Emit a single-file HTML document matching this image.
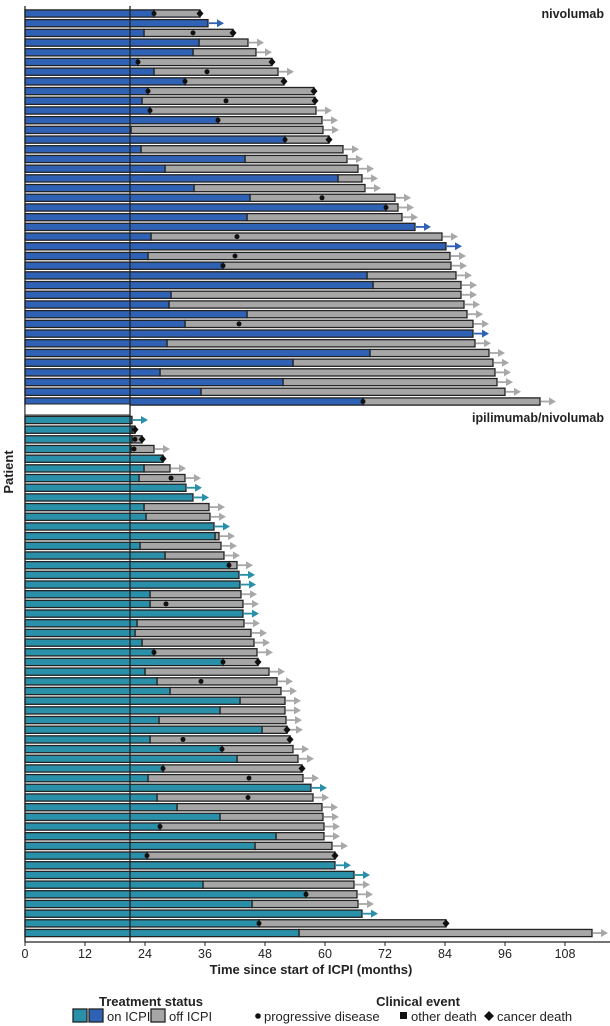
<!DOCTYPE html>
<html><head><meta charset="utf-8"><style>
html,body{margin:0;padding:0;background:#fff;}
svg{display:block;font-family:"Liberation Sans",Arial,sans-serif;}
</style></head><body>
<svg id="chart" width="610" height="1026" viewBox="0 0 610 1026" xmlns="http://www.w3.org/2000/svg">
<g id="bars"></g>
<g id="axes"></g>
<text x="604" y="18" text-anchor="end" font-size="12.5" font-weight="bold" fill="#222">nivolumab</text>
<text x="604" y="422" text-anchor="end" font-size="12.5" font-weight="bold" fill="#222">ipilimumab/nivolumab</text>
<text transform="translate(13,472) rotate(-90)" text-anchor="middle" font-size="13" font-weight="bold" fill="#222">Patient</text>
<text x="311" y="974" text-anchor="middle" font-size="13" font-weight="bold" fill="#222">Time since start of ICPI (months)</text>
<g>
<text x="151" y="1006" text-anchor="middle" font-size="13" font-weight="bold" fill="#222">Treatment status</text>
<rect x="73" y="1009" width="14" height="13" fill="#2A8FA8" stroke="#222" stroke-width="1.3"/>
<rect x="89" y="1009" width="14" height="13" fill="#2F62B5" stroke="#222" stroke-width="1.3"/>
<text x="107" y="1021" font-size="13" fill="#222">on ICPI</text>
<rect x="151" y="1009" width="14" height="13" fill="#A6A6A6" stroke="#222" stroke-width="1.3"/>
<text x="169" y="1021" font-size="13" fill="#222">off ICPI</text>
</g>
<g>
<text x="418" y="1006" text-anchor="middle" font-size="13" font-weight="bold" fill="#222">Clinical event</text>
<circle cx="258" cy="1016" r="2.8" fill="#111"/>
<text x="264" y="1021" font-size="13" fill="#222">progressive disease</text>
<rect x="400" y="1012" width="7" height="7" fill="#111"/>
<text x="411" y="1021" font-size="13" fill="#222">other death</text>
<path d="M489,1011 L494,1016 L489,1021 L484,1016 Z" fill="#111"/>
<text x="497" y="1021" font-size="13" fill="#222">cancer death</text>
</g>
</svg>
<script>
// Panel 1: nivolumab
const nivoOn  = [25.8,36.6,23.8,34.8,33.6,22.6,25.8,32,24.6,23.4,25,38.6,21.2,52,23.2,44,28,62.6,33.8,45,72.2,44.4,78,25.2,84.2,24.6,39.6,68.4,69.6,29.2,28.8,44.4,32,89.6,28.4,69,53.6,27,51.6,35.2,67.6];
const nivoTot = [35,36.6,41.6,44.6,46.2,49.4,50.6,51.8,57.8,58,58.2,59.4,59.6,60.8,63.6,64.4,66.6,67.4,68,74,74.6,75.4,78,83.4,84.2,85,85.2,86.2,87.2,87.2,87.8,88.4,89.6,89.6,90,92.8,93.6,94,94.4,96,103];
const nivoPD  = [25.8,null,33.6,null,null,22.6,36.4,32,24.6,40.2,25,38.6,null,52,null,null,null,null,null,59.4,72.2,null,null,42.4,null,42,39.6,null,null,null,null,null,42.8,null,null,null,null,null,null,null,67.6];
const nivoEnd = ['d','o','d','a','a','d','a','d','d','d','a','a','a','d','a','a','a','a','a','a','a','a','o','a','o','a','a','a','a','a','a','a','a','o','a','a','a','a','a','a','a'];
// Panel 2: ipilimumab/nivolumab
const ipiOn  = [21.4,21.4,21.4,21.2,27.6,23.8,22.8,32.2,33.6,23.8,24.2,37.8,38,23,28,40.8,42.8,43,25,25,43.6,22.4,22,23.4,25.8,39.6,24,26.4,29,43,39,26.8,47.4,25,39.4,42.4,27.6,24.6,57.2,26.4,30.4,39,27,50.2,46,24.4,62,65.8,35.6,56.2,45.4,67.4,46.8,54.8];
const ipiTot = [21.4,22,23.4,25.8,27.6,29,32,32.2,33.6,36.8,37,37.8,38.8,39.2,39.8,42.4,42.8,43,43.2,43.6,43.6,43.8,45.2,45.8,46.4,46.6,48.8,50.4,51.2,52,52,52.2,52.4,53,53.6,54.6,55.4,55.6,57.2,57.6,59.4,59.6,59.8,59.8,61.4,62,62,65.8,65.8,66.4,66.6,67.4,84.2,113.4];
const ipiPD  = [null,null,22,21.8,null,null,29.2,null,null,null,null,null,null,null,null,40.8,null,null,null,28.2,null,null,null,null,25.8,39.6,null,35.2,null,null,null,null,null,31.6,39.4,null,27.6,44.8,null,44.6,null,null,27,null,null,24.4,null,null,null,56.2,null,null,46.8,null];
const ipiEnd = ['o','d','d','a','d','a','a','o','o','a','a','o','a','a','a','a','o','o','a','a','o','a','a','a','a','d','a','a','a','a','a','a','da','d','a','a','d','a','o','a','a','a','a','a','a','d','o','o','a','a','a','o','d','a'];
const xTicks = [0,12,24,36,48,60,72,84,96,108];
const refLine = 21;

const NS='http://www.w3.org/2000/svg';
const X0=25, PX=5.0;
function xs(m){return X0+m*PX;}
function mk(tag,attrs,parent){const e=document.createElementNS(NS,tag);for(const k in attrs)e.setAttribute(k,attrs[k]);parent.appendChild(e);return e;}
const gB=document.getElementById('bars'), gA=document.getElementById('axes');

function panel(on,tot,pd,end,y0,step,color,label){
  for(let i=0;i<on.length;i++){
    const yc=y0+i*step, h=7.2, yt=yc-h/2;
    const row=mk('g',{},gB);
    
    
    if(tot[i]>on[i]){
      const g=mk('rect',{x:xs(on[i]),y:yt,width:xs(tot[i])-xs(on[i]),height:h,fill:'#A6A6A6',stroke:'#222','stroke-width':1.3},row);
      
      
    }
    const b=mk('rect',{x:xs(0),y:yt,width:xs(on[i])-xs(0),height:h,fill:color,stroke:'#222','stroke-width':1.3},row);
    
    
    const e=end[i];
    if(e==='a'||e==='o'||e==='da'){
      const ac=(e==='o')?color:'#A8A8A8';
      const sx=xs(tot[i])+1;
      const ar=mk('g',{},row);
      
      
      mk('line',{x1:sx,y1:yc,x2:sx+9,y2:yc,stroke:ac,'stroke-width':1.8},ar);
      mk('path',{d:`M${sx+8},${yc-4} L${sx+15},${yc} L${sx+8},${yc+4} Z`,fill:ac},ar);
    }
    if(pd[i]!==null){
      const c=mk('circle',{cx:xs(pd[i]),cy:yc,r:2.5,fill:'#111'},row);
      
      
    }
    if(e==='d'||e==='da'){
      const dx=xs(tot[i]);
      const d=mk('path',{d:`M${dx},${yc-4} L${dx+3.5},${yc} L${dx},${yc+4} L${dx-3.5},${yc} Z`,fill:'#111'},row);
      
      
    }
  }
}
panel(nivoOn,nivoTot,nivoPD,nivoEnd,13.5,9.7,'#2F62B5','nivolumab');
panel(ipiOn,ipiTot,ipiPD,ipiEnd,420,9.68,'#2A8FA8','ipi-nivo');

// axes
const ax=mk('line',{x1:X0,y1:6,x2:X0,y2:942,stroke:'#222','stroke-width':1.3},gA);


const bx=mk('line',{x1:X0,y1:942,x2:610,y2:942,stroke:'#222','stroke-width':1.3},gA);


const gap=mk('rect',{x:X0,y:404,width:xs(refLine)-X0,height:11,fill:'#fff',stroke:'#222','stroke-width':1},gA);


const rl=mk('line',{x1:xs(refLine),y1:6,x2:xs(refLine),y2:942,stroke:'#222','stroke-width':1.3},gA);


xTicks.forEach(t=>{
  const tk=mk('line',{x1:xs(t),y1:942,x2:xs(t),y2:946,stroke:'#222','stroke-width':1},gA);
  
  
  const tl=mk('text',{x:xs(t),y:958,'text-anchor':'middle','font-size':12.5,fill:'#222'},gA);
  
  
  tl.textContent=t;
});
</script>
</body></html>
